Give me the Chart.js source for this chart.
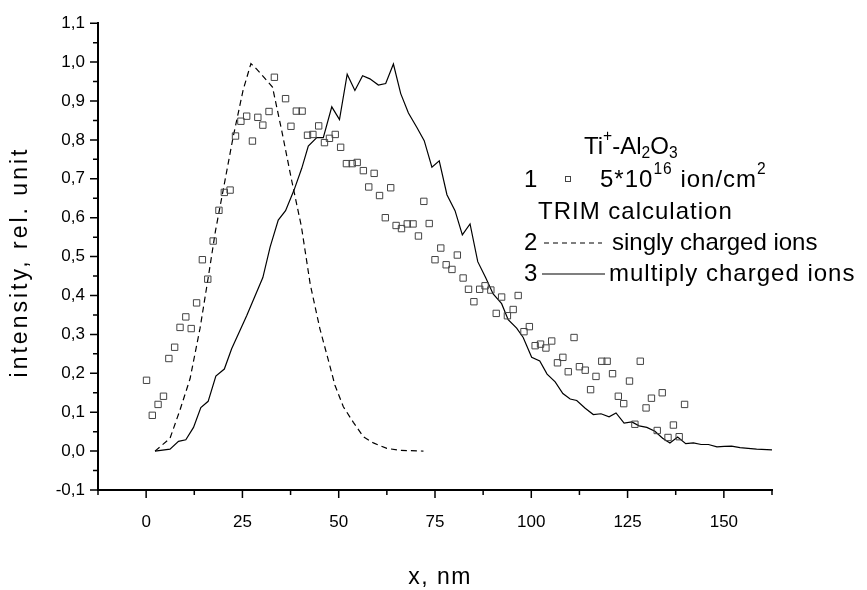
<!DOCTYPE html>
<html>
<head>
<meta charset="utf-8">
<script src="https://cdn.jsdelivr.net/npm/chart.js@4/dist/chart.umd.min.js"></script>
<style>
  html, body { margin: 0; padding: 0; background: #fff; }
</style>
</head>
<body>
<canvas id="chart" width="867" height="590"></canvas>
<script>
// measured points, 5*10^16 ion/cm2
const squareX = [0.1, 1.6, 3.1, 4.5, 5.9, 7.4, 8.8, 10.3, 11.7, 13.1, 14.6, 16.0, 17.4, 18.9, 20.3, 21.8,
  23.2, 24.6, 26.1, 27.6, 29.0, 30.3, 31.9, 33.3, 36.2, 37.6, 39.0, 40.5, 41.9, 43.3, 44.8, 46.3,
  47.6, 49.1, 50.5, 52.0, 53.5, 54.8, 56.4, 57.8, 59.2, 60.6, 62.1, 63.5, 64.9, 66.3, 67.8, 69.3,
  70.7, 72.1, 73.5, 75.0, 76.5, 77.9, 79.4, 80.8, 82.3, 83.7, 85.1, 86.6, 88.0, 89.5, 90.9, 92.3,
  93.8, 95.3, 96.6, 98.1, 99.5, 101.0, 102.4, 103.8, 105.3, 106.8, 108.2, 109.6, 111.1, 112.5,
  114.0, 115.4, 116.8, 118.3, 119.7, 121.1, 122.6, 124.0, 125.5, 126.9, 128.3, 129.8, 131.2,
  132.7, 134.0, 135.5, 136.9, 138.4, 139.8];
const squareY = [0.182, 0.092, 0.120, 0.141, 0.238, 0.267, 0.318, 0.345, 0.315, 0.381, 0.492, 0.442, 0.540, 0.619, 0.665, 0.671,
  0.810, 0.848, 0.861, 0.797, 0.858, 0.838, 0.873, 0.961, 0.906, 0.835, 0.874, 0.874, 0.812, 0.814, 0.836, 0.793,
  0.804, 0.814, 0.781, 0.739, 0.739, 0.742, 0.721, 0.679, 0.714, 0.657, 0.600, 0.677, 0.580, 0.572, 0.584, 0.584,
  0.553, 0.642, 0.585, 0.492, 0.522, 0.479, 0.467, 0.504, 0.445, 0.416, 0.384, 0.416, 0.425, 0.414, 0.354, 0.396,
  0.348, 0.364, 0.400, 0.307, 0.320, 0.271, 0.275, 0.265, 0.283, 0.227, 0.241, 0.204, 0.292, 0.217,
  0.208, 0.158, 0.192, 0.231, 0.231, 0.199, 0.141, 0.122, 0.180, 0.069, 0.231, 0.111, 0.136,
  0.053, 0.150, 0.035, 0.067, 0.037, 0.120];

// TRIM, singly charged ions (dashed)
const singlyX = [2.3, 6.2, 8.8, 11.4, 14.0, 16.1, 18.0, 20.0, 22.6, 25.2, 27.2, 28.7, 32.8, 35.2, 37.8,
  40.3, 42.6, 45.1, 47.6, 49.0, 51.2, 53.8, 56.4, 59.0, 62.5, 65.9, 72.0];
const singlyY = [0, 0.033, 0.106, 0.186, 0.316, 0.445, 0.566, 0.671, 0.808, 0.929, 0.996, 0.982, 0.936, 0.824, 0.695,
  0.578, 0.429, 0.315, 0.223, 0.170, 0.114, 0.074, 0.037, 0.021, 0.007, 0.002, 0];

// TRIM, multiply charged ions (solid)
const multiX = [2.3, 6.2, 8.4, 10.3, 12.3, 14.2, 16.1, 18.1, 20.3, 22.2, 26.1, 30.3, 32.2, 34.3, 36.2, 38.4,
  40.4, 42.1, 44.3, 46.0, 48.2, 50.2, 52.2, 54.2, 56.2, 58.1, 60.3, 62.2, 64.2, 66.1, 68.1, 70.3,
  72.2, 74.2, 76.1, 78.1, 80.2, 82.1, 84.1, 86.1, 88.2, 90.1, 92.3, 94.0, 96.2, 97.9, 100.1, 102.2,
  104.1, 106.2, 108.2, 110.1, 111.8, 114.0, 116.1, 118.1, 120.2, 122.0, 124.1, 126.1, 128.0, 130.0,
  132.1, 134.1, 136.0, 138.0, 140.1, 142.1, 144.1, 146.0, 148.2, 150.1, 152.0, 154.2, 156.3, 158.5, 162.5];
const multiY = [0, 0.005, 0.025, 0.029, 0.061, 0.112, 0.128, 0.193, 0.211, 0.263, 0.348, 0.446, 0.525, 0.594, 0.618, 0.671,
  0.727, 0.784, 0.806, 0.806, 0.885, 0.852, 0.969, 0.927, 0.965, 0.957, 0.941, 0.945, 0.995, 0.919, 0.869, 0.832,
  0.798, 0.730, 0.746, 0.659, 0.618, 0.556, 0.584, 0.487, 0.445, 0.404, 0.379, 0.338, 0.316, 0.292, 0.241, 0.232,
  0.198, 0.178, 0.148, 0.134, 0.130, 0.110, 0.094, 0.096, 0.088, 0.098, 0.072, 0.075, 0.065, 0.061,
  0.051, 0.033, 0.021, 0.036, 0.019, 0.021, 0.017, 0.017, 0.011, 0.012, 0.013, 0.009, 0.007, 0.005, 0.003];

const xTicks = [0, 25, 50, 75, 100, 125, 150];
const xMinorTicks = [-12.5, 12.5, 37.5, 62.5, 87.5, 112.5, 137.5, 162.5];
const yTicks = [-0.1, 0, 0.1, 0.2, 0.3, 0.4, 0.5, 0.6, 0.7, 0.8, 0.9, 1.0, 1.1];
const yMinorTicks = [-0.05, 0.05, 0.15, 0.25, 0.35, 0.45, 0.55, 0.65, 0.75, 0.85, 0.95, 1.05];

const FONT = "'Liberation Sans', Arial, sans-serif";
Chart.defaults.font.family = FONT;
Chart.defaults.color = '#000';

function pts(xs, ys) {
  return xs.map((x, i) => ({ x: x, y: ys[i] }));
}

// outward tick marks, major + minor (Chart.js has no minor ticks)
const tickMarks = {
  id: 'tickMarks',
  afterDraw(chart) {
    const ctx = chart.ctx;
    const xs = chart.scales.x, ys = chart.scales.y;
    const left = chart.chartArea.left, bottom = chart.chartArea.bottom;
    ctx.save();
    ctx.strokeStyle = '#000';
    ctx.lineWidth = 1.5;
    ctx.beginPath();
    xTicks.forEach(v => { const p = xs.getPixelForValue(v); ctx.moveTo(p, bottom); ctx.lineTo(p, bottom + 8); });
    xMinorTicks.forEach(v => { const p = xs.getPixelForValue(v); ctx.moveTo(p, bottom); ctx.lineTo(p, bottom + 5); });
    yTicks.forEach(v => { const p = ys.getPixelForValue(v); ctx.moveTo(left, p); ctx.lineTo(left - 8, p); });
    yMinorTicks.forEach(v => { const p = ys.getPixelForValue(v); ctx.moveTo(left, p); ctx.lineTo(left - 5, p); });
    ctx.stroke();
    ctx.restore();
  }
};

// write text with super/subscripts, parts = [[text, 'n'|'sup'|'sub'], ...]
function richText(ctx, parts, x, y, size) {
  parts.forEach(([t, kind]) => {
    let s = size, dy = 0;
    if (kind === 'sup') { s = size * 0.65; dy = -size * 0.42; }
    if (kind === 'sub') { s = size * 0.65; dy = size * 0.28; }
    ctx.font = s + 'px ' + FONT;
    ctx.fillText(t, x, y + dy);
    x += ctx.measureText(t).width;
  });
}

// axis titles and legend block (the original text is a bit letter-spaced)
const annotations = {
  id: 'annotations',
  afterDraw(chart) {
    const ctx = chart.ctx;
    const area = chart.chartArea;
    ctx.save();
    ctx.fillStyle = '#000';
    ctx.textBaseline = 'middle';

    ctx.textAlign = 'center';
    ctx.letterSpacing = '1.5px';
    ctx.font = '23px ' + FONT;
    ctx.fillText('x, nm', (area.left + area.right) / 2 + 5, 578);
    ctx.letterSpacing = '3px';
    ctx.save();
    ctx.translate(21, 262);
    ctx.rotate(-Math.PI / 2);
    ctx.fillText('intensity, rel. unit', 0, 0);
    ctx.restore();

    ctx.textAlign = 'left';
    ctx.letterSpacing = '0px';
    richText(ctx, [['Ti', 'n'], ['+', 'sup'], ['-Al', 'n'], ['2', 'sub'], ['O', 'n'], ['3', 'sub']], 584, 147, 24);

    ctx.letterSpacing = '1px';
    const fs = 24;
    richText(ctx, [['1', 'n']], 524, 180, fs);
    ctx.strokeStyle = '#444';
    ctx.lineWidth = 1;
    ctx.strokeRect(565.5, 176.5, 5, 5);
    richText(ctx, [['5*10', 'n'], ['16', 'sup'], [' ion/cm', 'n'], ['2', 'sup']], 600, 180, fs);

    richText(ctx, [['TRIM calculation', 'n']], 538, 212, fs);

    richText(ctx, [['2', 'n']], 524, 243, fs);
    ctx.strokeStyle = '#000';
    ctx.lineWidth = 1.2;
    ctx.setLineDash([5, 4]);
    ctx.beginPath(); ctx.moveTo(544, 243); ctx.lineTo(602, 243); ctx.stroke();
    ctx.setLineDash([]);
    ctx.letterSpacing = '0px';
    richText(ctx, [['singly charged ions', 'n']], 612, 243, fs);

    ctx.letterSpacing = '1px';
    richText(ctx, [['3', 'n']], 524, 274, fs);
    ctx.beginPath(); ctx.moveTo(542, 274); ctx.lineTo(605, 274); ctx.stroke();
    richText(ctx, [['multiply charged ions', 'n']], 609, 274, fs);
    ctx.restore();
  }
};

new Chart(document.getElementById('chart'), {
  type: 'scatter',
  data: {
    datasets: [
      {
        label: '5*10^16 ion/cm2',
        data: pts(squareX, squareY),
        pointStyle: 'rect',
        pointRadius: 4.5,
        borderColor: '#444',
        backgroundColor: 'rgba(0,0,0,0)',
        borderWidth: 1,
        showLine: false
      },
      {
        label: 'singly charged ions',
        data: pts(singlyX, singlyY),
        showLine: true,
        borderColor: '#000',
        borderWidth: 1.2,
        borderDash: [6, 4],
        pointRadius: 0,
        fill: false
      },
      {
        label: 'multiply charged ions',
        data: pts(multiX, multiY),
        showLine: true,
        borderColor: '#000',
        borderWidth: 1.2,
        pointRadius: 0,
        fill: false
      }
    ]
  },
  options: {
    responsive: false,
    animation: false,
    layout: { padding: { top: 20, right: 95, left: 0, bottom: 0 } },
    plugins: { legend: { display: false }, tooltip: { enabled: false } },
    scales: {
      x: {
        type: 'linear',
        min: -12.5,
        max: 162.5,
        afterBuildTicks: s => { s.ticks = xTicks.map(v => ({ value: v })); },
        afterFit: s => { s.height = 100; },
        ticks: { font: { size: 17 }, padding: 22, maxRotation: 0, autoSkip: false },
        grid: { drawOnChartArea: false, drawTicks: false },
        border: { color: '#000', width: 2 }
      },
      y: {
        min: -0.1,
        max: 1.1,
        afterBuildTicks: s => { s.ticks = yTicks.map(v => ({ value: v })); },
        afterFit: s => { s.width = 98; },
        ticks: { font: { size: 17 }, padding: 13, callback: v => v.toFixed(1).replace('.', ',') },
        grid: { drawOnChartArea: false, drawTicks: false },
        border: { color: '#000', width: 2 }
      }
    }
  },
  plugins: [tickMarks, annotations]
});
</script>
</body>
</html>
